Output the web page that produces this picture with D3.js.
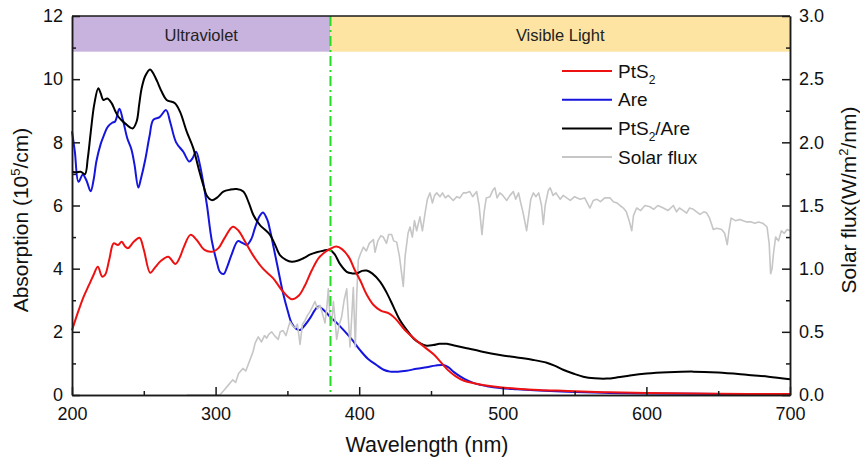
<!DOCTYPE html>
<html><head><meta charset="utf-8">
<script src="https://cdn.jsdelivr.net/npm/d3@7"></script>
<style>body{margin:0;background:#fff}svg text{font-family:"Liberation Sans",Arial,sans-serif}</style>
</head><body><svg id="c" width="860" height="462"></svg>
<script>
// ---------- data ----------
const wlTicks = [200, 300, 400, 500, 600, 700];
const wlMinor = [250, 350, 450, 550, 650];
const absTicks = [0, 2, 4, 6, 8, 10, 12];
const absMinor = [1, 3, 5, 7, 9, 11];
const fluxTicks = [0, 0.5, 1.0, 1.5, 2.0, 2.5, 3.0];
const fluxMinor = [0.25, 0.75, 1.25, 1.75, 2.25, 2.75];

const regionNames = ["Ultraviolet", "Visible Light"];
const regionFrom = [200, 380];
const regionTo = [380, 700];
const regionTop = 12;
const regionBottom = 10.87;
const dividerWl = 380;

// PtS2 absorption [wavelength nm, 10^5/cm]
const pts2 = [[200,2.05],[204,2.6],[208,3.1],[212,3.5],[215,3.8],[218,4.06],[221,3.75],[223,3.8],[226,4.3],[229,4.8],[232,4.75],[234.6,4.85],[237,4.7],[239,4.65],[243,4.85],[247,4.98],[250,4.6],[254.5,3.87],[258,4.05],[262,4.25],[267,4.38],[272,4.15],[275,4.35],[278,4.7],[282.5,5.07],[287,4.9],[292,4.6],[298,4.54],[302,4.65],[306,4.95],[312,5.33],[316,5.2],[320,4.9],[326,4.43],[333,4.0],[340,3.7],[347,3.27],[353,3.03],[358,3.15],[362,3.45],[367,3.95],[372,4.35],[377,4.55],[380,4.63],[384,4.7],[388,4.62],[393,4.35],[397,3.95],[401,3.6],[405,3.2],[410,2.85],[415,2.67],[421,2.58],[426,2.38],[432,2.05],[440,1.72],[446,1.5],[452,1.28],[458,0.98],[462,0.78],[467,0.6],[473,0.45],[480,0.37],[487,0.31],[495,0.26],[510,0.2],[525,0.16],[545,0.13],[570,0.09],[600,0.06],[650,0.04],[700,0.03]];

// Are absorption
const are = [[200,8.35],[202,7.7],[204.5,6.75],[207.5,6.97],[210,6.8],[213,6.45],[215,6.8],[217,7.4],[220,7.95],[222,8.2],[225,8.5],[228,8.62],[230,8.66],[233,9.06],[235.5,8.7],[238.5,8.13],[241.5,7.76],[243.5,7.3],[246.2,6.57],[248,6.85],[251,7.45],[254,8.2],[256.6,8.71],[261,8.8],[265.5,9.02],[268.5,8.62],[272.5,8.0],[277.5,7.7],[281.7,7.39],[284,7.5],[286.4,7.7],[289,7.3],[291.5,6.7],[294,6.0],[297.3,4.9],[300.8,4.22],[303,3.9],[305.6,3.83],[308,4.05],[311,4.43],[315.5,4.87],[318.5,4.82],[321.7,4.75],[325,4.95],[327.5,5.3],[330.5,5.65],[333,5.78],[336,5.55],[338,5.2],[340.5,4.65],[343,4.1],[347,3.22],[350,2.7],[353,2.27],[356,2.1],[359,2.06],[362,2.2],[366,2.45],[369,2.68],[371.5,2.8],[375,2.7],[379.7,2.48],[384,2.3],[389,2.06],[395,1.75],[400.6,1.42],[406,1.15],[412,0.95],[417,0.8],[421.5,0.74],[427,0.74],[433,0.77],[440,0.83],[447,0.88],[453,0.93],[458.6,0.95],[462,0.88],[465.5,0.74],[470,0.6],[475,0.47],[481,0.36],[489,0.28],[498,0.22],[510,0.18],[525,0.14],[545,0.1],[570,0.07],[600,0.05],[650,0.03],[700,0.02]];

// PtS2/Are absorption
const pts2Are = [[200,7.07],[203,7.05],[206,7.07],[209,6.99],[211,7.5],[213,8.3],[215.5,9.2],[218.3,9.71],[220,9.55],[221.8,9.34],[224.6,9.39],[227.6,9.24],[230,9.0],[232.3,8.81],[236.9,8.6],[242.2,8.44],[245,8.66],[246.8,9.2],[248.5,9.71],[251,10.1],[254.3,10.31],[257,10.15],[259.4,9.92],[262.5,9.6],[265.9,9.34],[271.7,9.24],[275.2,8.97],[279.9,8.34],[284.5,7.81],[288,7.2],[291.4,6.65],[294,6.3],[297.3,6.17],[301,6.25],[305.4,6.44],[310,6.5],[314.7,6.52],[319.3,6.44],[323,6.1],[326.3,5.7],[330.9,5.38],[334,5.25],[337.9,5.07],[341,4.8],[344.8,4.43],[349,4.28],[353,4.22],[357,4.25],[361.1,4.33],[366,4.45],[370.4,4.52],[375,4.57],[379.7,4.59],[383,4.45],[386.6,4.15],[391.3,3.9],[395,3.85],[398.3,3.85],[402,3.93],[405.2,3.94],[409,3.85],[414.5,3.59],[419,3.25],[423.8,2.8],[428,2.4],[433.1,2.06],[438,1.78],[442.3,1.64],[447,1.56],[451.6,1.58],[456,1.62],[461,1.62],[467,1.56],[474.9,1.48],[485,1.38],[498,1.27],[510,1.19],[521.2,1.11],[530.6,1.02],[536,0.93],[542,0.8],[549,0.68],[556,0.58],[564,0.53],[572.3,0.52],[580,0.56],[588.6,0.62],[600.2,0.68],[615,0.72],[632.7,0.74],[650,0.71],[669.8,0.64],[685,0.58],[700,0.5]];

// Solar flux [wavelength nm, W/m^2/nm]
const solarFlux = [[280,0],[300,0],[303,0],[306,0.04],[309,0.08],[312,0.12],[314,0.1],[316,0.17],[319,0.21],[321,0.19],[324,0.28],[326,0.34],[327.5,0.41],[329.7,0.46],[332,0.42],[334,0.47],[335.6,0.45],[337,0.48],[339,0.5],[341,0.47],[343.6,0.44],[345,0.5],[347,0.51],[349,0.47],[351.8,0.58],[353.5,0.55],[355.3,0.53],[357,0.56],[358.8,0.4],[360.5,0.56],[362.3,0.59],[364,0.63],[365.7,0.66],[367.5,0.7],[369.2,0.74],[371,0.68],[372.7,0.71],[374.5,0.64],[376.2,0.57],[377.5,0.7],[378.5,0.84],[379.7,0.6],[380.9,0.57],[382,0.74],[383,0.62],[384.3,0.44],[386,0.55],[387.8,0.62],[389.5,0.75],[391.3,0.84],[392.5,0.6],[393.6,0.38],[394.8,0.62],[395.9,0.85],[396.8,0.55],[397.3,0.38],[398.3,0.8],[399.4,1.07],[401,1.12],[402.9,1.17],[405,1.14],[407,1.2],[409.9,1.23],[411,1.13],[413,1.22],[415,1.26],[416.8,1.25],[419,1.2],[420.5,1.27],[422.6,1.27],[424,1.22],[426.1,1.21],[428,1.1],[430.7,0.86],[432,1.1],[434,1.28],[435.4,1.33],[437,1.25],[438.5,1.38],[440,1.3],[442.3,1.41],[444,1.3],[446,1.45],[447.5,1.55],[449.3,1.6],[451,1.52],[452.5,1.58],[454,1.6],[456.3,1.57],[458,1.6],[460,1.56],[462,1.58],[465.5,1.54],[468,1.57],[470,1.56],[472.5,1.6],[474.8,1.6],[477,1.61],[479,1.57],[481.8,1.61],[483.5,1.5],[485.5,1.27],[487,1.45],[488.5,1.56],[491.1,1.57],[493,1.62],[494.5,1.64],[496,1.56],[498,1.6],[500,1.58],[502.7,1.54],[505,1.58],[507.3,1.61],[509,1.55],[511,1.6],[512.5,1.52],[514,1.45],[516.6,1.3],[518,1.42],[519.5,1.55],[521.3,1.6],[523,1.57],[525,1.6],[527,1.5],[528.2,1.35],[529.5,1.5],[531.7,1.62],[533,1.64],[535,1.58],[537,1.6],[540,1.55],[542,1.58],[544.5,1.56],[547,1.54],[550,1.57],[553.8,1.55],[557,1.56],[560.7,1.48],[563,1.54],[565.4,1.55],[568,1.53],[571,1.56],[574.7,1.56],[577,1.53],[579.5,1.52],[581.6,1.5],[584,1.48],[586,1.45],[588,1.38],[589.8,1.3],[591,1.42],[593.2,1.48],[596,1.46],[599,1.5],[602.5,1.49],[605,1.47],[608,1.5],[611.8,1.48],[615,1.46],[618.8,1.5],[621,1.45],[623,1.48],[625.7,1.46],[628,1.44],[630,1.48],[632.7,1.47],[635,1.45],[637.3,1.43],[640,1.45],[642,1.44],[644,1.4],[646.6,1.31],[649,1.32],[652.4,1.31],[654.5,1.28],[656.3,1.19],[657.5,1.3],[659,1.4],[662,1.38],[665,1.39],[669.8,1.37],[673,1.37],[675.6,1.36],[678,1.37],[681,1.36],[684,1.33],[685.5,1.2],[686.5,0.96],[687.5,1.0],[688.5,1.12],[690,1.25],[692,1.22],[694,1.3],[696,1.28],[698,1.31],[700,1.3]];

const legendLabels = [["PtS","2",""],["Are","",""],["PtS","2","/Are"],["Solar flux","",""]];

// ---------- styles ----------
const colPts2 = "#ee1111", colAre = "#1515dd", colMix = "#000000", colFlux = "#c6c6c6";
const regionColors = ["#c8b3de", "#fde4a2"];
const legendColors = [colPts2, colAre, colMix, colFlux];
const axisColor = "#1a1a1a";

// ---------- layout ----------
const svg = d3.select("#c");
const L = 72, R = 790, T = 16, B = 395;
const x = d3.scaleLinear().domain([200, 700]).range([L, R]);
const y = d3.scaleLinear().domain([0, 12]).range([B, T]);
const y2 = d3.scaleLinear().domain([0, 3]).range([B, T]);

// region bands
regionNames.forEach((n, i) => {
  svg.append("rect").attr("x", x(regionFrom[i])).attr("y", y(regionTop))
    .attr("width", x(regionTo[i]) - x(regionFrom[i])).attr("height", y(regionBottom) - y(regionTop))
    .attr("fill", regionColors[i]);
  svg.append("text").attr("x", (x(regionFrom[i]) + x(regionTo[i])) / 2).attr("y", 40.5)
    .attr("text-anchor", "middle").attr("font-size", 16.5).attr("fill", "#222").text(n);
});

// curves
const line = d3.line().x(d => x(d[0])).y(d => y(d[1])).curve(d3.curveCatmullRom.alpha(0.5));
const fluxLine = d3.line().x(d => x(d[0])).y(d => y2(d[1]));
svg.append("path").datum(are).attr("d", line).attr("fill", "none").attr("stroke", colAre).attr("stroke-width", 2);
svg.append("path").datum(solarFlux).attr("d", fluxLine).attr("fill", "none").attr("stroke", colFlux).attr("stroke-width", 1.6).attr("stroke-linejoin", "round");
svg.append("path").datum(pts2Are).attr("d", line).attr("fill", "none").attr("stroke", colMix).attr("stroke-width", 2);
svg.append("path").datum(pts2).attr("d", line).attr("fill", "none").attr("stroke", colPts2).attr("stroke-width", 2);

// divider
svg.append("line").attr("x1", x(dividerWl)).attr("x2", x(dividerWl)).attr("y1", y(regionTop)).attr("y2", y(0))
  .attr("stroke", "#22dd22").attr("stroke-width", 2).attr("stroke-dasharray", "10,4,2,4");

// axes
function styleAxis(g) {
  g.selectAll("path,line").attr("stroke", axisColor).attr("stroke-width", 1.5);
  g.selectAll("text").attr("font-size", 18).attr("fill", "#111").attr("font-family", "'Liberation Sans',Arial,sans-serif");
}
svg.append("g").attr("transform", `translate(0,${B})`)
  .call(d3.axisBottom(x).tickValues(wlMinor).tickSize(-4).tickSizeOuter(0).tickFormat("")).call(styleAxis);
svg.append("g").attr("transform", `translate(0,${B})`)
  .call(d3.axisBottom(x).tickValues(wlTicks).tickSize(-8).tickSizeOuter(0).tickPadding(12).tickFormat(d3.format("d"))).call(styleAxis);
svg.append("g").attr("transform", `translate(${L},0)`)
  .call(d3.axisLeft(y).tickValues(absMinor).tickSize(-4).tickSizeOuter(0).tickFormat("")).call(styleAxis);
svg.append("g").attr("transform", `translate(${L},0)`)
  .call(d3.axisLeft(y).tickValues(absTicks).tickSize(-8).tickSizeOuter(0).tickPadding(9).tickFormat(d3.format("d"))).call(styleAxis);
svg.append("g").attr("transform", `translate(${R},0)`)
  .call(d3.axisRight(y2).tickValues(fluxMinor).tickSize(-4).tickSizeOuter(0).tickFormat("")).call(styleAxis);
svg.append("g").attr("transform", `translate(${R},0)`)
  .call(d3.axisRight(y2).tickValues(fluxTicks).tickSize(-8).tickSizeOuter(0).tickPadding(9).tickFormat(d3.format(".1f"))).call(styleAxis);
svg.append("line").attr("x1", L).attr("x2", R).attr("y1", T).attr("y2", T).attr("stroke", axisColor).attr("stroke-width", 1.5);

// axis titles
svg.append("text").attr("x", (L + R) / 2 - 4).attr("y", 452).attr("text-anchor", "middle").attr("font-size", 21.5).attr("fill", "#111").text("Wavelength (nm)");
const lt = svg.append("text").attr("transform", "translate(28,220) rotate(-90)").attr("text-anchor", "middle").attr("font-size", 21).attr("fill", "#111");
lt.append("tspan").text("Absorption (10");
lt.append("tspan").attr("font-size", 13).attr("dy", -8).text("5");
lt.append("tspan").attr("dy", 8).text("/cm)");
const rt = svg.append("text").attr("transform", "translate(856,200) rotate(-90)").attr("text-anchor", "middle").attr("font-size", 21).attr("fill", "#111");
rt.append("tspan").text("Solar flux(W/m");
rt.append("tspan").attr("font-size", 13).attr("dy", -8).text("2");
rt.append("tspan").attr("dy", 8).text("/nm)");

// legend
const legY0 = 71, legDy = 28.7;
legendLabels.forEach((lab, i) => {
  const yy = legY0 + i * legDy;
  svg.append("line").attr("x1", 562).attr("x2", 612).attr("y1", yy).attr("y2", yy).attr("stroke", legendColors[i]).attr("stroke-width", 2);
  const t = svg.append("text").attr("x", 618).attr("y", yy + 6.5).attr("font-size", 19).attr("fill", "#111");
  t.append("tspan").text(lab[0]);
  if (lab[1]) t.append("tspan").attr("font-size", 12).attr("dy", 6).text(lab[1]);
  if (lab[2]) t.append("tspan").attr("dy", -6).text(lab[2]);
});
</script></body></html>
